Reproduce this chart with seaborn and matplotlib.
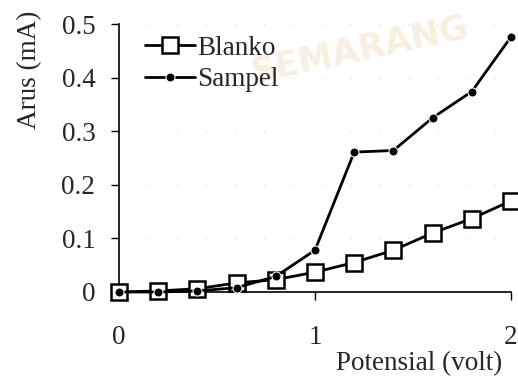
import matplotlib
matplotlib.use('Agg')
import matplotlib.pyplot as plt
import seaborn as sns
import pandas as pd

potensial = [0, 0.2, 0.4, 0.6, 0.8, 1.0, 1.2, 1.4, 1.6, 1.8, 2.0]
blanko = [0, 0.002, 0.006, 0.017, 0.023, 0.037, 0.055, 0.078, 0.110, 0.137, 0.170]
sampel = [0, 0, 0.002, 0.008, 0.029, 0.078, 0.261, 0.264, 0.325, 0.374, 0.476]

df = pd.DataFrame({'Potensial': potensial * 2,
                   'Arus': blanko + sampel,
                   'Seri': ['Blanko'] * len(blanko) + ['Sampel'] * len(sampel)})

sns.set_style('white')
plt.rcParams['font.family'] = ['Liberation Serif', 'DejaVu Serif']

fig = plt.figure(figsize=(5.18, 3.8), dpi=100)
ax = fig.add_axes([0.2297, 0.2316, 0.7568, 0.7052])

# faint watermark from the scan, behind everything
ax.text(0.695, 0.868, 'SEMARANG', transform=fig.transFigure, fontsize=25,
        color='#f9efe0', rotation=12, ha='center', va='center',
        family='DejaVu Sans', fontweight='bold', zorder=0.5)

sns.lineplot(data=df, x='Potensial', y='Arus', hue='Seri', style='Seri',
             palette={'Blanko': 'black', 'Sampel': 'black'},
             markers={'Blanko': 's', 'Sampel': 'o'}, dashes=False,
             linewidth=2.0, markersize=9, ax=ax, legend=False)

for line, lab in zip(ax.lines, ['Blanko', 'Sampel']):
    if lab == 'Blanko':
        line.set_markerfacecolor('white')
        line.set_markeredgecolor('black')
        line.set_markeredgewidth(1.8)
        line.set_markersize(11)
        line.set_zorder(3)
    else:
        line.set_markerfacecolor('black')
        line.set_markersize(6.5)
        line.set_zorder(4)
    line.set_clip_on(False)
    line.set_label(lab)

ax.set_xlim(0, 2)
ax.set_ylim(0, 0.5)
ax.set_xticks([0, 1, 2])
ax.set_xticklabels(['0', '1', '2'])
ax.set_yticks([0, 0.1, 0.2, 0.3, 0.4, 0.5])
ax.set_yticklabels(['0', '0.1', '0.2', '0.3', '0.4', '0.5'])
ax.tick_params(axis='both', labelsize=19.5, length=6, width=1, color='black',
               direction='out', left=True, bottom=True)
ax.tick_params(axis='x', pad=18)
ax.tick_params(axis='y', pad=11)
for s in ['top', 'right']:
    ax.spines[s].set_visible(False)
for s in ['left', 'bottom']:
    ax.spines[s].set_color('black')
    ax.spines[s].set_linewidth(1.2)
ax.yaxis.grid(True, linestyle=(0, (1, 25)), color='#d4d4d4', linewidth=0.8)
ax.set_axisbelow(True)
ax.patch.set_alpha(0)

ax.set_xlabel('Potensial (volt)', fontsize=19.5, ha='right')
ax.xaxis.set_label_coords(0.977, -0.222)
ax.set_ylabel('Arus (mA)', fontsize=19.5)
ax.yaxis.set_label_coords(-0.196, 0.828)

leg = ax.legend(loc='upper left', bbox_to_anchor=(0.066, 0.957), frameon=False,
                fontsize=19.5, handlelength=1.85, handletextpad=0.08,
                labelspacing=0.25, borderpad=0, borderaxespad=0)
leg.set_zorder(6)

fig.savefig('out.png', dpi=100)
